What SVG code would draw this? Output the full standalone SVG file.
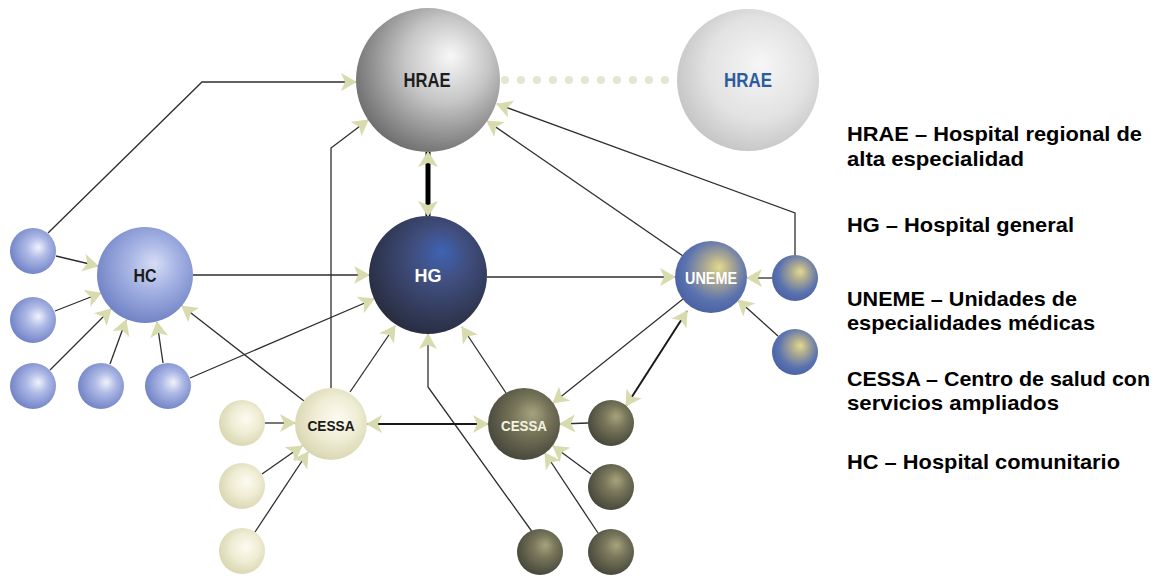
<svg xmlns="http://www.w3.org/2000/svg" width="1156" height="579" viewBox="0 0 1156 579">
<defs>
<radialGradient id="gGrey" cx="0.6" cy="0.4" r="0.65" fx="0.66" fy="0.33"><stop offset="0" stop-color="#f8f8f8"/><stop offset="0.45" stop-color="#c6c6c6"/><stop offset="1" stop-color="#6c6c6c"/></radialGradient>
<radialGradient id="gLight" cx="0.55" cy="0.45" r="0.6" fx="0.6" fy="0.38"><stop offset="0" stop-color="#f6f6f6"/><stop offset="0.6" stop-color="#e2e2e2"/><stop offset="1" stop-color="#c2c2c2"/></radialGradient>
<radialGradient id="gHG" cx="0.58" cy="0.4" r="0.65" fx="0.62" fy="0.3"><stop offset="0" stop-color="#3e63b4"/><stop offset="0.35" stop-color="#414f80"/><stop offset="1" stop-color="#272b3c"/></radialGradient>
<radialGradient id="gHC" cx="0.55" cy="0.42" r="0.62" fx="0.6" fy="0.38"><stop offset="0" stop-color="#d6ddf6"/><stop offset="0.45" stop-color="#a2b0e2"/><stop offset="1" stop-color="#6d7fc3"/></radialGradient>
<radialGradient id="gBlue" cx="0.55" cy="0.45" r="0.6" fx="0.62" fy="0.42"><stop offset="0" stop-color="#f0f2fb"/><stop offset="0.4" stop-color="#acb8e5"/><stop offset="1" stop-color="#6c7ec4"/></radialGradient>
<radialGradient id="gUn" cx="0.55" cy="0.42" r="0.62" fx="0.62" fy="0.36"><stop offset="0" stop-color="#e2da8e"/><stop offset="0.3" stop-color="#aaa892"/><stop offset="0.7" stop-color="#5a72b0"/><stop offset="1" stop-color="#4860a0"/></radialGradient>
<radialGradient id="gCream" cx="0.55" cy="0.45" r="0.6" fx="0.6" fy="0.4"><stop offset="0" stop-color="#fcfbf2"/><stop offset="0.5" stop-color="#efedd4"/><stop offset="1" stop-color="#d6d4ae"/></radialGradient>
<radialGradient id="gOlive" cx="0.56" cy="0.42" r="0.62" fx="0.62" fy="0.35"><stop offset="0" stop-color="#a6a47e"/><stop offset="0.4" stop-color="#78765a"/><stop offset="1" stop-color="#44443a"/></radialGradient>
<marker id="ah" viewBox="0 0 16 18" refX="15" refY="9" markerWidth="16" markerHeight="18" markerUnits="userSpaceOnUse" orient="auto-start-reverse"><path d="M0,0 L16,9 L0,18 L4,9 z" fill="#d8dbad"/></marker>
<marker id="ahb" viewBox="0 0 16 20" refX="15" refY="10" markerWidth="16" markerHeight="20" markerUnits="userSpaceOnUse" orient="auto-start-reverse"><path d="M0,0 L16,10 L0,20 L4,10 z" fill="#d8dbad"/></marker>
</defs>
<style>
.c{fill:none;stroke:#2e2e2e;stroke-width:1.3}
.a{marker-end:url(#ah)}
.n{font-family:"Liberation Sans",Arial,sans-serif;font-weight:bold;text-anchor:middle;dominant-baseline:central}
.lg{font-family:"Liberation Sans",Arial,sans-serif;font-weight:bold;font-size:21px;fill:#000}
</style>
<rect width="1156" height="579" fill="#ffffff"/>

<g id="connectors">
<line x1="505" y1="80" x2="676" y2="80" stroke="#e2e8d0" stroke-width="8" stroke-linecap="round" stroke-dasharray="0 16"/>
<polyline class="c a" points="48,233 202,82 356,82"/>
<polyline class="c a" points="331,388 331,148 368,120"/>
<line x1="428" y1="152" x2="428" y2="216" stroke="#000" stroke-width="5" marker-start="url(#ahb)" marker-end="url(#ahb)"/>
<polyline class="c a" points="795,255 795,213 497,104"/>
<line class="c a" x1="683" y1="256" x2="487" y2="121"/>
<line class="c a" x1="193" y1="275" x2="369" y2="275"/>
<line class="c a" x1="487" y1="277" x2="675" y2="277"/>
<line class="c a" x1="190" y1="378" x2="374" y2="299"/>
<line class="c a" x1="350" y1="392" x2="395" y2="326"/>
<polyline class="c a" points="533,533 428,387 428,334"/>
<line class="c a" x1="506" y1="393" x2="462" y2="327"/>
<line class="c a" x1="304" y1="401" x2="182" y2="306"/>
<line class="c a" x1="56" y1="256" x2="98" y2="266"/>
<line class="c a" x1="55" y1="311" x2="101" y2="293"/>
<line class="c a" x1="50" y1="370" x2="111" y2="309"/>
<line class="c a" x1="110" y1="364" x2="126" y2="320"/>
<line class="c a" x1="163" y1="363" x2="157" y2="322"/>
<line x1="367" y1="424" x2="488" y2="424" stroke="#1a1a1a" stroke-width="1.8" marker-start="url(#ah)" marker-end="url(#ah)"/>
<line class="c a" x1="265" y1="423" x2="295" y2="423"/>
<line class="c a" x1="262" y1="474" x2="302" y2="446"/>
<line class="c a" x1="255" y1="532" x2="308" y2="452"/>
<line class="c a" x1="588" y1="423" x2="560" y2="424"/>
<line class="c a" x1="591" y1="474" x2="553" y2="446"/>
<line class="c a" x1="598" y1="533" x2="545" y2="453"/>
<line class="c a" x1="683" y1="299" x2="553" y2="403"/>
<line x1="687" y1="311" x2="626" y2="406" stroke="#1a1a1a" stroke-width="2" marker-start="url(#ah)" marker-end="url(#ah)"/>
<line class="c a" x1="772" y1="278" x2="747" y2="278"/>
<line class="c a" x1="778" y1="336" x2="738" y2="300"/>
</g>

<g id="hrae-main"><circle cx="428" cy="80" r="72" fill="url(#gGrey)"/><text class="n" x="427" y="80" font-size="20" fill="#1e1e1e" textLength="47" lengthAdjust="spacingAndGlyphs">HRAE</text></g>
<g id="hrae-other"><circle cx="748" cy="80" r="71" fill="url(#gLight)"/><text class="n" x="748" y="80" font-size="20" fill="#2a5c9e" textLength="48" lengthAdjust="spacingAndGlyphs">HRAE</text></g>
<g id="hg"><circle cx="428" cy="275" r="59" fill="url(#gHG)"/><text class="n" x="428" y="276" font-size="18" fill="#ffffff" textLength="27" lengthAdjust="spacingAndGlyphs">HG</text></g>
<g id="hc"><circle cx="145" cy="275" r="48" fill="url(#gHC)"/><text class="n" x="145" y="276" font-size="18" fill="#1a1a1a" textLength="23" lengthAdjust="spacingAndGlyphs">HC</text></g>
<g id="uneme"><circle cx="711" cy="277" r="36" fill="url(#gUn)"/><text class="n" x="711" y="278" font-size="16" fill="#ffffff" textLength="52" lengthAdjust="spacingAndGlyphs">UNEME</text></g>
<g id="uneme-sat1"><circle cx="795" cy="278" r="23" fill="url(#gUn)"/></g>
<g id="uneme-sat2"><circle cx="795" cy="352" r="23" fill="url(#gUn)"/></g>
<g id="cessa-left"><circle cx="331" cy="424" r="36" fill="url(#gCream)"/><text class="n" x="331" y="425" font-size="15" fill="#1a1a1a" textLength="47" lengthAdjust="spacingAndGlyphs">CESSA</text></g>
<g id="cessa-right"><circle cx="524" cy="424" r="36" fill="url(#gOlive)"/><text class="n" x="524" y="425" font-size="15" fill="#f4f2e0" textLength="46" lengthAdjust="spacingAndGlyphs">CESSA</text></g>
<g id="cream-1"><circle cx="242" cy="423" r="23" fill="url(#gCream)"/></g>
<g id="cream-2"><circle cx="242" cy="486" r="23" fill="url(#gCream)"/></g>
<g id="cream-3"><circle cx="242" cy="551" r="23" fill="url(#gCream)"/></g>
<g id="olive-1"><circle cx="611" cy="423" r="23" fill="url(#gOlive)"/></g>
<g id="olive-2"><circle cx="611" cy="487" r="23" fill="url(#gOlive)"/></g>
<g id="olive-3"><circle cx="611" cy="552" r="23" fill="url(#gOlive)"/></g>
<g id="olive-4"><circle cx="540" cy="552" r="23" fill="url(#gOlive)"/></g>
<g id="blue-1"><circle cx="33" cy="251" r="23" fill="url(#gBlue)"/></g>
<g id="blue-2"><circle cx="33" cy="320" r="23" fill="url(#gBlue)"/></g>
<g id="blue-3"><circle cx="33" cy="386" r="23" fill="url(#gBlue)"/></g>
<g id="blue-4"><circle cx="101" cy="386" r="23" fill="url(#gBlue)"/></g>
<g id="blue-5"><circle cx="168" cy="386" r="23" fill="url(#gBlue)"/></g>

<g id="legend">
<text class="lg" x="847" y="141" textLength="295" lengthAdjust="spacingAndGlyphs">HRAE  – Hospital regional de</text>
<text class="lg" x="847" y="166" textLength="177" lengthAdjust="spacingAndGlyphs">alta especialidad</text>
<text class="lg" x="847" y="232" textLength="227" lengthAdjust="spacingAndGlyphs">HG  – Hospital general</text>
<text class="lg" x="847" y="306" textLength="230" lengthAdjust="spacingAndGlyphs">UNEME  – Unidades de</text>
<text class="lg" x="847" y="330" textLength="248" lengthAdjust="spacingAndGlyphs">especialidades médicas</text>
<text class="lg" x="847" y="386" textLength="303" lengthAdjust="spacingAndGlyphs">CESSA  – Centro de salud con</text>
<text class="lg" x="847" y="410" textLength="212" lengthAdjust="spacingAndGlyphs">servicios ampliados</text>
<text class="lg" x="847" y="469" textLength="273" lengthAdjust="spacingAndGlyphs">HC – Hospital comunitario</text>
</g>
</svg>
